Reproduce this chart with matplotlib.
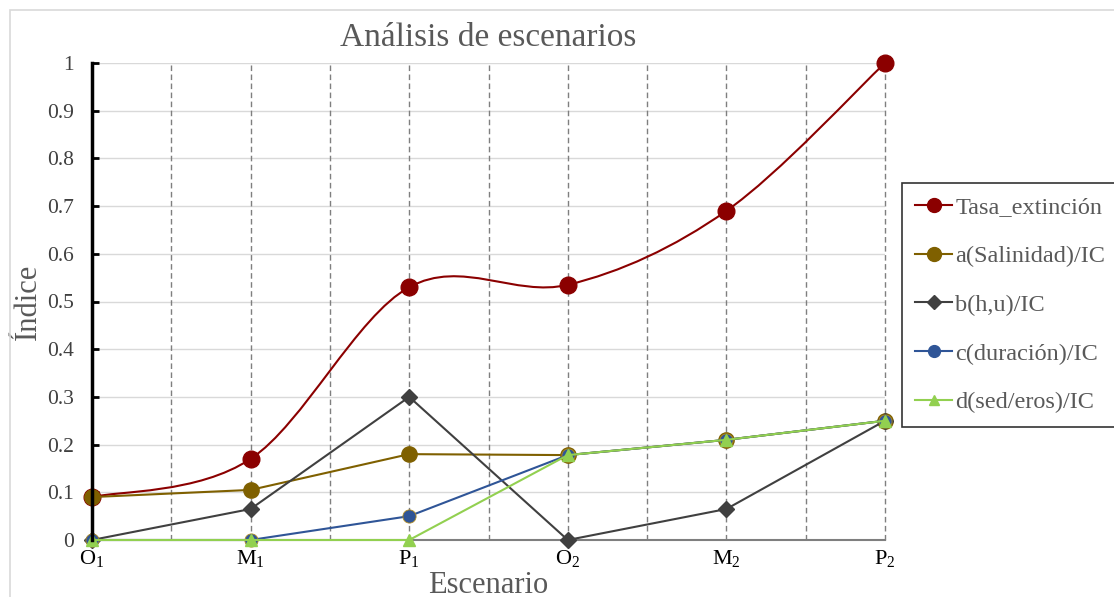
import matplotlib
matplotlib.use("Agg")
import matplotlib.pyplot as plt
from matplotlib.path import Path
from matplotlib.patches import PathPatch, Rectangle
from matplotlib.lines import Line2D
import numpy as np

plt.rcParams['font.family'] = ['Liberation Serif', 'DejaVu Serif']
plt.rcParams['mathtext.fontset'] = 'custom'
plt.rcParams['mathtext.rm'] = 'Liberation Serif'
plt.rcParams['mathtext.it'] = 'Liberation Serif'

# ---------------------------------------------------------
# Data
# ---------------------------------------------------------
scenarios = [r"O$_\mathrm{1}$", r"M$_\mathrm{1}$", r"P$_\mathrm{1}$",
             r"O$_\mathrm{2}$", r"M$_\mathrm{2}$", r"P$_\mathrm{2}$"]
tasa = [0.09, 0.17, 0.53, 0.535, 0.69, 1.0]
salinidad = [0.09, 0.105, 0.18, 0.178, 0.21, 0.25]
hu = [0.0, 0.065, 0.30, 0.0, 0.065, 0.25]
duracion = [0.0, 0.0, 0.05, 0.178, 0.21, 0.25]
sederos = [0.0, 0.0, 0.0, 0.178, 0.21, 0.25]

labels = ["Tasa_extinción", "a(Salinidad)/IC", "b(h,u)/IC",
          "c(duración)/IC", "d(sed/eros)/IC"]
C_TASA = "#8B0000"
C_SAL = "#7F6000"
C_HU = "#404040"
C_DUR = "#2F5597"
C_SED = "#92D050"


def excel_smooth_path(xs, ys, t=1/6):
    # Bezier path in the style of Excel's "smoothed line"
    pts = np.column_stack([xs, ys]).astype(float)
    n = len(pts)
    verts = [pts[0]]
    codes = [Path.MOVETO]
    for i in range(n - 1):
        p_prev = pts[max(i - 1, 0)]
        p0 = pts[i]
        p1 = pts[i + 1]
        p_next = pts[min(i + 2, n - 1)]
        c1 = p0 + (p1 - p_prev) * t
        c2 = p1 - (p_next - p0) * t
        verts += [c1, c2, p1]
        codes += [Path.CURVE4] * 3
    return Path(verts, codes)


W, H = 1114, 597
fig = plt.figure(figsize=(W / 100, H / 100), dpi=100)

# outer chart border
fig.patches.append(Rectangle((10 / W, -0.05), 1.2, (H - 10) / H + 0.05,
                             transform=fig.transFigure, fill=False,
                             ec="#d9d9d9", lw=1.2))

ax = fig.add_axes([92 / W, (H - 540) / H, (885 - 92) / W, (540 - 63) / H])
x = np.arange(len(scenarios))

ax.set_xlim(0, 5)
ax.set_ylim(0, 1)

# grid
yt = np.round(np.arange(0, 1.01, 0.1), 1)
for v in yt[1:]:
    ax.axhline(v, color="#d9d9d9", lw=1, zorder=0)
for v in np.arange(0.5, 5.01, 0.5):
    ax.axvline(v, color="#7f7f7f", lw=1, ls=(0, (4, 2.5)), zorder=0.5,
               clip_on=False)

# Tasa extinción (smoothed)
ax.add_patch(PathPatch(excel_smooth_path(x, tasa), fill=False,
                       ec=C_TASA, lw=1.5, zorder=2, clip_on=False))
ax.plot(x, tasa, ls="none", marker="o", ms=12, color=C_TASA,
        zorder=2, clip_on=False)

ax.plot(x, salinidad, color=C_SAL, lw=1.5, marker="o", ms=11,
        zorder=3, clip_on=False)
ax.plot(x, hu, color=C_HU, lw=1.5, marker="D", ms=8,
        zorder=4, clip_on=False)
ax.plot(x, duracion, color=C_DUR, lw=1.5, marker="o", ms=9.5,
        mec="#b08a20", mew=0.6, zorder=5, clip_on=False)
ax.plot(x, sederos, color=C_SED, lw=1.5, marker="^", ms=8,
        zorder=6, clip_on=False)

# axes styling
for s in ["top", "right"]:
    ax.spines[s].set_visible(False)
ax.spines["left"].set_color("black")
ax.spines["left"].set_linewidth(2.5)
ax.spines["bottom"].set_color("#7f7f7f")
ax.spines["bottom"].set_linewidth(1.5)
ax.spines["left"].set_zorder(7)

ax.set_yticks(yt)
ax.set_yticklabels([("%g" % v) for v in yt])
ax.tick_params(axis="y", direction="in", length=5, width=2, color="black",
               labelsize=15.5, labelcolor="#404040", pad=13)
ax.set_xticks(x)
ax.set_xticklabels(scenarios)
ax.tick_params(axis="x", length=0, labelsize=16, labelcolor="black", pad=6)

ax.set_title("Análisis de escenarios", fontsize=24, color="#595959", pad=12)
ax.set_ylabel("Índice", fontsize=22, color="#595959", labelpad=3)
ax.set_xlabel("Escenario", fontsize=22, color="#595959", labelpad=1)

# legend
handles = [
    Line2D([], [], color=C_TASA, lw=1.5, marker="o", ms=10),
    Line2D([], [], color=C_SAL, lw=1.5, marker="o", ms=10),
    Line2D([], [], color=C_HU, lw=1.5, marker="D", ms=7),
    Line2D([], [], color=C_DUR, lw=1.5, marker="o", ms=8.5),
    Line2D([], [], color=C_SED, lw=1.5, marker="^", ms=7.5),
]
leg = fig.legend(handles, labels, loc="upper left",
                 bbox_to_anchor=(902 / W, (H - 183) / H),
                 fontsize=17.5, labelcolor="#595959", frameon=True,
                 fancybox=False, edgecolor="black", labelspacing=1.1,
                 handlelength=1.5, handletextpad=0.15, borderpad=0.55,
                 borderaxespad=0)
leg.get_frame().set_linewidth(1.2)

fig.savefig("out.png", dpi=100)
